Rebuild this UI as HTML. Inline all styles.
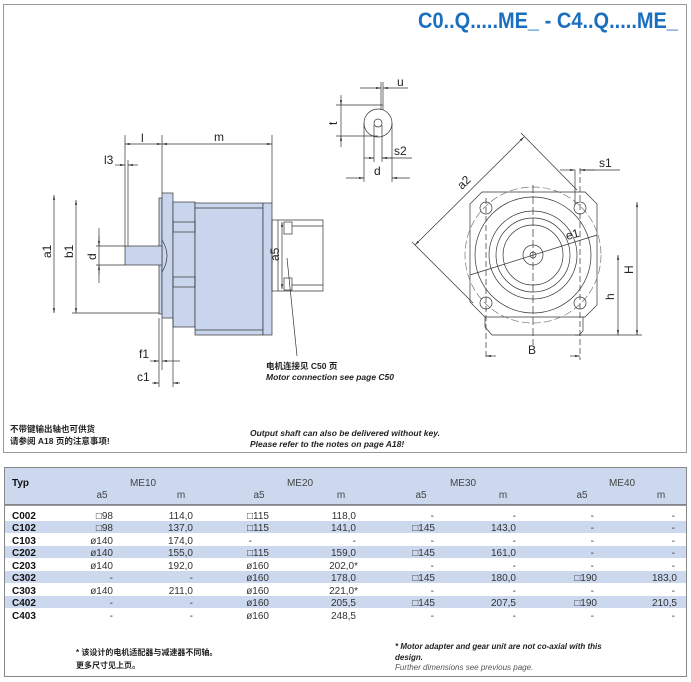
<!DOCTYPE html>
<html><head><meta charset="utf-8"><style>
body{margin:0;background:#fff;width:691px;height:682px;overflow:hidden;font-family:"Liberation Sans","Noto Sans CJK SC",sans-serif}
svg{position:absolute;left:0;top:0}
</style></head><body>
<svg width="691" height="682" viewBox="0 0 691 682" font-family="Liberation Sans, Noto Sans CJK SC, sans-serif">
<defs>
<marker id="a" viewBox="0 0 10 10" refX="10" refY="5" markerWidth="7" markerHeight="7" orient="auto-start-reverse"><path d="M0,3L10,5L0,7z" fill="#222"/></marker>
</defs>
<rect x="3.5" y="4.5" width="683" height="448" fill="none" stroke="#999" stroke-width="1"/>
<text x="678" y="28" text-anchor="end" font-size="22" font-weight="bold" fill="#1a6fbf" textLength="260" lengthAdjust="spacingAndGlyphs">C0..Q.....ME_ - C4..Q.....ME_</text>
<g stroke="#333" stroke-width="0.7" fill="none">
<!-- left view -->
<rect x="159" y="198" width="3" height="116" fill="#c9d5ec"/>
<rect x="162" y="193" width="11" height="125" fill="#c9d5ec"/>
<rect x="173" y="202" width="22" height="125" fill="#c9d5ec"/>
<rect x="195" y="203" width="68" height="132" fill="#c9d5ec"/>
<rect x="263" y="203" width="9" height="132" fill="#c9d5ec"/>
<line x1="195" y1="208" x2="263" y2="208"/><line x1="195" y1="330" x2="263" y2="330"/>
<rect x="173" y="222" width="22" height="10"/><rect x="173" y="277" width="22" height="10"/>
<rect x="125" y="246" width="37" height="19" fill="#c9d5ec"/>
<path d="M162,240 Q172,256 162,272"/>
<rect x="272" y="220" width="6" height="71"/>
<path d="M278,220h45v71h-45"/><rect x="284" y="222" width="8" height="12"/><rect x="284" y="278" width="8" height="12"/>
<line x1="292" y1="226" x2="323" y2="226"/><line x1="292" y1="285" x2="323" y2="285"/>
<!-- dims -->
<line x1="125" y1="135" x2="125" y2="246"/><line x1="162" y1="135" x2="162" y2="193"/><line x1="272" y1="135" x2="272" y2="203"/>
<line x1="125" y1="144" x2="162" y2="144" marker-start="url(#a)" marker-end="url(#a)"/>
<line x1="162" y1="144" x2="272" y2="144" marker-start="url(#a)" marker-end="url(#a)"/>
<line x1="115" y1="165" x2="125" y2="165" marker-end="url(#a)"/><line x1="138" y1="165" x2="128" y2="165" marker-end="url(#a)"/>
<line x1="128" y1="160" x2="128" y2="246"/>
<line x1="54" y1="195" x2="54" y2="313" marker-start="url(#a)" marker-end="url(#a)"/>
<line x1="76" y1="200" x2="76" y2="313" marker-start="url(#a)" marker-end="url(#a)"/>
<line x1="72" y1="313" x2="159" y2="313"/>
<line x1="99" y1="228" x2="99" y2="283"/><line x1="99" y1="236" x2="99" y2="246" marker-end="url(#a)"/><line x1="99" y1="275" x2="99" y2="265" marker-end="url(#a)"/>
<line x1="96" y1="246" x2="125" y2="246"/><line x1="96" y1="265" x2="125" y2="265"/>
<line x1="159" y1="318" x2="159" y2="387"/><line x1="162" y1="318" x2="162" y2="370"/><line x1="173" y1="318" x2="173" y2="387"/>
<line x1="150" y1="361" x2="159" y2="361" marker-end="url(#a)"/><line x1="180" y1="361" x2="162" y2="361" marker-end="url(#a)"/>
<line x1="152" y1="383" x2="159" y2="383" marker-end="url(#a)"/><line x1="180" y1="383" x2="173" y2="383" marker-end="url(#a)"/>
<line x1="282" y1="222" x2="282" y2="289" marker-start="url(#a)" marker-end="url(#a)"/>
<line x1="287" y1="258" x2="297" y2="356"/>
<!-- shaft detail -->
<circle cx="378" cy="123" r="14"/><circle cx="378" cy="123" r="4"/>
<line x1="381" y1="82" x2="381" y2="110"/><line x1="383" y1="82" x2="383" y2="110"/>
<line x1="360" y1="88" x2="381" y2="88" marker-end="url(#a)"/><line x1="408" y1="88" x2="383" y2="88" marker-end="url(#a)"/>
<line x1="336" y1="105" x2="383" y2="105"/><line x1="336" y1="136" x2="378" y2="136"/>
<line x1="341" y1="95" x2="341" y2="105" marker-end="url(#a)"/><line x1="341" y1="147" x2="341" y2="136" marker-end="url(#a)"/>
<line x1="341" y1="105" x2="341" y2="136"/>
<line x1="364" y1="123" x2="364" y2="182"/><line x1="392" y1="123" x2="392" y2="182"/>
<line x1="374" y1="125" x2="374" y2="162"/><line x1="382" y1="125" x2="382" y2="162"/>
<line x1="364" y1="158" x2="374" y2="158" marker-end="url(#a)"/><line x1="412" y1="158" x2="382" y2="158"/><line x1="392" y1="158" x2="382" y2="158" marker-end="url(#a)"/>
<line x1="346" y1="178" x2="364" y2="178" marker-end="url(#a)"/><line x1="410" y1="178" x2="392" y2="178" marker-end="url(#a)"/>
<!-- front view -->
<path d="M482,192h103l12,12v101l-12,12h-100l-15,-15v-98z"/>
<path d="M485,317v10l7,8h87l4,-4v-14"/>
<circle cx="533" cy="255" r="68" stroke-dasharray="8,3" stroke="#777"/>
<circle cx="533" cy="255" r="58"/><circle cx="533" cy="255" r="44"/><circle cx="533" cy="255" r="37"/><circle cx="533" cy="255" r="30"/><circle cx="533" cy="255" r="10"/><circle cx="533" cy="255" r="3"/>
<circle cx="486" cy="208" r="6"/><circle cx="580" cy="208" r="6"/><circle cx="486" cy="303" r="6"/><circle cx="580" cy="303" r="6"/>
<line x1="533" y1="185" x2="533" y2="345" stroke-dasharray="8,3"/>
<line x1="486" y1="198" x2="486" y2="360" stroke-dasharray="6,3"/><line x1="580" y1="168" x2="580" y2="360" stroke-dasharray="6,3"/>
<line x1="470" y1="275" x2="597" y2="235"/>
<line x1="415" y1="245" x2="524" y2="137" marker-start="url(#a)" marker-end="url(#a)"/>
<line x1="521" y1="133" x2="577" y2="190"/><line x1="412" y1="242" x2="473" y2="303"/>
<line x1="575" y1="170" x2="575" y2="205"/><line x1="560" y1="170" x2="575" y2="170" marker-end="url(#a)"/><line x1="620" y1="170" x2="580" y2="170"/><line x1="595" y1="170" x2="580" y2="170" marker-end="url(#a)"/>
<line x1="486" y1="356" x2="496" y2="356" marker-start="url(#a)"/><line x1="570" y1="356" x2="580" y2="356" marker-end="url(#a)"/>
<line x1="575" y1="335" x2="642" y2="335"/>
<line x1="618" y1="255" x2="618" y2="335" marker-start="url(#a)" marker-end="url(#a)"/>
<line x1="637" y1="202" x2="637" y2="335" marker-start="url(#a)" marker-end="url(#a)"/>
</g>
<g font-size="12" fill="#222">
<text x="141" y="142">l</text><text x="214" y="141">m</text><text x="104" y="164">l3</text>
<text x="51" y="258" transform="rotate(-90 51 258)">a1</text><text x="73" y="258" transform="rotate(-90 73 258)">b1</text><text x="96" y="260" transform="rotate(-90 96 260)">d</text>
<text x="139" y="358">f1</text><text x="137" y="381">c1</text>
<text x="279" y="261" transform="rotate(-90 279 261)">a5</text>
<text x="397" y="86">u</text><text x="337" y="125" transform="rotate(-90 337 125)">t</text><text x="394" y="155">s2</text><text x="374" y="175">d</text>
<text x="462" y="190" transform="rotate(-45 462 190)">a2</text><text x="567" y="240" transform="rotate(-15 567 240)">e1</text>
<text x="599" y="167">s1</text><text x="528" y="354">B</text>
<text x="614" y="300" transform="rotate(-90 614 300)">h</text><text x="633" y="274" transform="rotate(-90 633 274)">H</text>
</g>
<g font-size="8.5" font-weight="bold" fill="#222">
<text x="266" y="369">电机连接见 C50 页</text>
<text x="266" y="380" font-style="italic">Motor connection see page C50</text>
<text x="10" y="432">不带键输出轴也可供货</text>
<text x="10" y="444">请参阅 A18 页的注意事项!</text>
<text x="250" y="436" font-style="italic">Output shaft can also be delivered without key.</text>
<text x="250" y="447" font-style="italic">Please refer to the notes on page A18!</text>
</g>
<!-- table -->
<rect x="4.5" y="467.5" width="682" height="209" fill="#fff" stroke="#888"/>
<rect x="5" y="468" width="681" height="37" fill="#ccd8ee"/>
<line x1="5" y1="505" x2="686" y2="505" stroke="#333"/>
<g fill="#ccd8ee"><rect x="5" y="521" width="681" height="12"/><rect x="5" y="546" width="681" height="12"/><rect x="5" y="571" width="681" height="12"/><rect x="5" y="596" width="681" height="12"/></g>
<g font-size="10" fill="#444">
<text x="12" y="486" font-weight="bold" fill="#111">Typ</text>
<text x="143" y="486" text-anchor="middle">ME10</text><text x="300" y="486" text-anchor="middle">ME20</text><text x="463" y="486" text-anchor="middle">ME30</text><text x="622" y="486" text-anchor="middle">ME40</text>
<text x="102" y="498" text-anchor="middle">a5</text><text x="181" y="498" text-anchor="middle">m</text><text x="259" y="498" text-anchor="middle">a5</text><text x="341" y="498" text-anchor="middle">m</text><text x="421" y="498" text-anchor="middle">a5</text><text x="503" y="498" text-anchor="middle">m</text><text x="582" y="498" text-anchor="middle">a5</text><text x="661" y="498" text-anchor="middle">m</text>
</g>
<g font-size="10" fill="#333">
<g font-weight="bold" fill="#111"><text x="12" y="519">C002</text><text x="12" y="531">C102</text><text x="12" y="544">C103</text><text x="12" y="556">C202</text><text x="12" y="569">C203</text><text x="12" y="581">C302</text><text x="12" y="594">C303</text><text x="12" y="606">C402</text><text x="12" y="619">C403</text></g>
<g text-anchor="end">
<text x="113" y="519">□98</text><text x="193" y="519">114,0</text><text x="269" y="519">□115</text><text x="356" y="519">118,0</text><text x="434" y="519">-</text><text x="516" y="519">-</text><text x="594" y="519">-</text><text x="675" y="519">-</text>
<text x="113" y="531">□98</text><text x="193" y="531">137,0</text><text x="269" y="531">□115</text><text x="356" y="531">141,0</text><text x="435" y="531">□145</text><text x="516" y="531">143,0</text><text x="594" y="531">-</text><text x="675" y="531">-</text>
<text x="113" y="544">ø140</text><text x="193" y="544">174,0</text><text x="252" y="544">-</text><text x="356" y="544">-</text><text x="434" y="544">-</text><text x="516" y="544">-</text><text x="594" y="544">-</text><text x="675" y="544">-</text>
<text x="113" y="556">ø140</text><text x="193" y="556">155,0</text><text x="269" y="556">□115</text><text x="356" y="556">159,0</text><text x="435" y="556">□145</text><text x="516" y="556">161,0</text><text x="594" y="556">-</text><text x="675" y="556">-</text>
<text x="113" y="569">ø140</text><text x="193" y="569">192,0</text><text x="269" y="569">ø160</text><text x="358" y="569">202,0*</text><text x="434" y="569">-</text><text x="516" y="569">-</text><text x="594" y="569">-</text><text x="675" y="569">-</text>
<text x="113" y="581">-</text><text x="193" y="581">-</text><text x="269" y="581">ø160</text><text x="356" y="581">178,0</text><text x="435" y="581">□145</text><text x="516" y="581">180,0</text><text x="597" y="581">□190</text><text x="677" y="581">183,0</text>
<text x="113" y="594">ø140</text><text x="193" y="594">211,0</text><text x="269" y="594">ø160</text><text x="358" y="594">221,0*</text><text x="434" y="594">-</text><text x="516" y="594">-</text><text x="594" y="594">-</text><text x="675" y="594">-</text>
<text x="113" y="606">-</text><text x="193" y="606">-</text><text x="269" y="606">ø160</text><text x="356" y="606">205,5</text><text x="435" y="606">□145</text><text x="516" y="606">207,5</text><text x="597" y="606">□190</text><text x="677" y="606">210,5</text>
<text x="113" y="619">-</text><text x="193" y="619">-</text><text x="269" y="619">ø160</text><text x="356" y="619">248,5</text><text x="434" y="619">-</text><text x="516" y="619">-</text><text x="594" y="619">-</text><text x="675" y="619">-</text>
</g>
</g>
<g font-size="8" fill="#222">
<text x="76" y="655" font-weight="bold">* 该设计的电机适配器与减速器不同轴。</text>
<text x="76" y="668" font-weight="bold">更多尺寸见上页。</text>
<text x="395" y="649" font-weight="bold" font-style="italic">* Motor adapter and gear unit are not co-axial with this</text>
<text x="395" y="660" font-weight="bold" font-style="italic">design.</text>
<text x="395" y="670" font-style="italic" fill="#555">Further dimensions see previous page.</text>
</g>
</svg>
</body></html>
